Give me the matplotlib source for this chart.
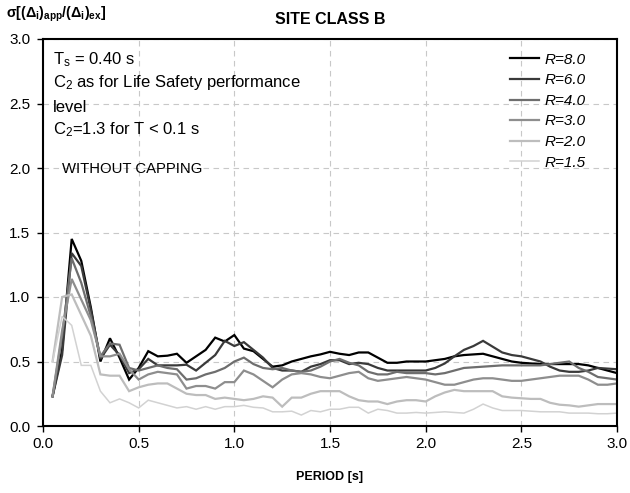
import numpy as np
import matplotlib
matplotlib.use("Agg")
import matplotlib.pyplot as plt

plt.rcParams['font.family'] = ['Liberation Sans', 'DejaVu Sans']
plt.rcParams['mathtext.fontset'] = 'custom'
plt.rcParams['mathtext.rm'] = 'Liberation Sans'
plt.rcParams['mathtext.it'] = 'Liberation Sans:italic'
plt.rcParams['mathtext.bf'] = 'Liberation Sans:bold'

period = [round(0.05 * i, 2) for i in range(1, 61)]

r80 = [0.23, 0.59, 1.45, 1.28, 0.92, 0.50, 0.68, 0.53, 0.36, 0.45,
       0.58, 0.54, 0.545, 0.56, 0.49, 0.54, 0.59, 0.685, 0.655, 0.705,
       0.60, 0.58, 0.52, 0.46, 0.47, 0.50, 0.52, 0.54, 0.555, 0.575,
       0.56, 0.55, 0.57, 0.57, 0.53, 0.49, 0.49, 0.50, 0.50, 0.50,
       0.51, 0.52, 0.54, 0.55, 0.555, 0.56, 0.54, 0.52, 0.50, 0.49,
       0.485, 0.48, 0.48, 0.48, 0.48, 0.48, 0.47, 0.45, 0.43, 0.41]
r60 = [0.23, 0.55, 1.34, 1.24, 0.90, 0.52, 0.63, 0.55, 0.41, 0.44,
       0.52, 0.47, 0.47, 0.47, 0.475, 0.43, 0.49, 0.55, 0.66, 0.62,
       0.65, 0.59, 0.53, 0.45, 0.43, 0.43, 0.42, 0.46, 0.48, 0.51,
       0.51, 0.48, 0.49, 0.48, 0.45, 0.43, 0.43, 0.43, 0.43, 0.43,
       0.45, 0.485, 0.54, 0.59, 0.62, 0.66, 0.615, 0.57, 0.55, 0.54,
       0.52, 0.50, 0.46, 0.43, 0.42, 0.42, 0.43, 0.45, 0.445, 0.44]
r40 = [0.23, 0.70, 1.30, 1.11, 0.85, 0.54, 0.64, 0.63, 0.45, 0.43,
       0.45, 0.47, 0.45, 0.44, 0.36, 0.37, 0.40, 0.42, 0.45, 0.50,
       0.53, 0.48, 0.45, 0.44, 0.45, 0.43, 0.42, 0.43, 0.46, 0.50,
       0.52, 0.49, 0.47, 0.42, 0.40, 0.40, 0.42, 0.41, 0.41, 0.41,
       0.40, 0.41, 0.43, 0.45, 0.455, 0.46, 0.465, 0.47, 0.47, 0.47,
       0.47, 0.47, 0.48, 0.49, 0.50, 0.45, 0.42, 0.38, 0.37, 0.36]
r30 = [0.23, 0.74, 1.14, 0.98, 0.82, 0.54, 0.54, 0.56, 0.44, 0.36,
       0.40, 0.42, 0.41, 0.40, 0.29, 0.31, 0.31, 0.29, 0.34, 0.34,
       0.43, 0.40, 0.35, 0.30, 0.36, 0.40, 0.41, 0.40, 0.38, 0.37,
       0.39, 0.41, 0.42, 0.37, 0.35, 0.36, 0.37, 0.38, 0.37, 0.36,
       0.34, 0.32, 0.32, 0.34, 0.36, 0.37, 0.37, 0.36, 0.35, 0.35,
       0.36, 0.37, 0.38, 0.39, 0.39, 0.39, 0.36, 0.32, 0.32, 0.33]
r20 = [0.50, 1.00, 1.02, 0.86, 0.70, 0.40, 0.39, 0.39, 0.27, 0.30,
       0.32, 0.33, 0.33, 0.29, 0.25, 0.24, 0.24, 0.21, 0.22, 0.21,
       0.20, 0.21, 0.23, 0.22, 0.15, 0.22, 0.22, 0.25, 0.27, 0.27,
       0.27, 0.23, 0.20, 0.19, 0.19, 0.17, 0.19, 0.20, 0.20, 0.19,
       0.23, 0.26, 0.28, 0.27, 0.27, 0.27, 0.27, 0.23, 0.22, 0.215,
       0.21, 0.21, 0.18, 0.165, 0.16, 0.15, 0.16, 0.17, 0.17, 0.17]
r15 = [0.50, 0.85, 0.78, 0.47, 0.47, 0.27, 0.18, 0.21, 0.18, 0.14,
       0.20, 0.18, 0.16, 0.14, 0.15, 0.13, 0.15, 0.13, 0.15, 0.15,
       0.16, 0.145, 0.14, 0.11, 0.11, 0.115, 0.085, 0.12, 0.11, 0.13,
       0.13, 0.145, 0.145, 0.10, 0.13, 0.12, 0.10, 0.10, 0.105, 0.10,
       0.105, 0.11, 0.105, 0.10, 0.13, 0.17, 0.14, 0.12, 0.12, 0.12,
       0.115, 0.11, 0.11, 0.11, 0.10, 0.10, 0.10, 0.095, 0.095, 0.10]

labels = ["R=8.0", "R=6.0", "R=4.0", "R=3.0", "R=2.0", "R=1.5"]
series = [r80, r60, r40, r30, r20, r15]
colors = ["#000000", "#3a3a3a", "#6e6e6e", "#8e8e8e", "#bdbdbd", "#d2d2d2"]
widths = [1.6, 1.6, 1.6, 1.6, 1.6, 1.1]

fig = plt.figure(figsize=(6.3, 4.93), dpi=100)
ax = fig.add_axes([43/630, 1-426/493, (617-43)/630, (426-39)/493])

for y, lab, c, w in zip(series, labels, colors, widths):
    ax.plot(period, y, color=c, lw=w, label=lab, solid_joinstyle='miter')

ax.set_xlim(0, 3.0)
ax.set_ylim(0, 3.0)
ax.set_xticks(np.arange(0, 3.01, 0.5))
ax.set_yticks(np.arange(0, 3.01, 0.5))
ax.xaxis.set_major_formatter(matplotlib.ticker.FormatStrFormatter('%.1f'))
ax.yaxis.set_major_formatter(matplotlib.ticker.FormatStrFormatter('%.1f'))
ax.tick_params(direction='out', length=4, width=1, labelsize=11, colors='black')
ax.tick_params(axis='y', pad=5)
ax.tick_params(axis='x', pad=4)
ax.grid(True, color='#c8c8c8', linestyle=(0, (5, 4)), lw=0.8)
for s in ax.spines.values():
    s.set_linewidth(1.5)
    s.set_color('black')

fs = 12
ax.text(0.052, 2.806, r"T$_\mathrm{s}$ = 0.40 s", fontsize=fs, va='baseline')
ax.text(0.052, 2.628, r"C$_\mathrm{2}$ as for Life Safety performance", fontsize=fs, va='baseline')
ax.text(0.052, 2.434, "level", fontsize=fs, va='baseline')
ax.text(0.052, 2.264, r"C$_\mathrm{2}$=1.3 for T < 0.1 s", fontsize=fs, va='baseline')
ax.text(0.10, 1.965, "WITHOUT CAPPING", fontsize=10.7, va='baseline')

leg = ax.legend(loc='upper right', frameon=False, fontsize=11,
                handlelength=1.9, labelspacing=0.43, handletextpad=0.33,
                borderaxespad=0.5, bbox_to_anchor=(0.969, 1.0))
for t in leg.get_texts():
    t.set_fontstyle('italic')

fig.text(330/630, 1-20/493, "SITE CLASS B", ha='center', va='center',
         fontsize=11.5, fontweight='bold')
fig.text(6/630, 1-14/493,
         r"$\mathbf{\sigma[(\Delta_{i})_{app}/(\Delta_{i})_{ex}]}$",
         ha='left', va='center', fontsize=10.3)
fig.text(330/630, 1-477/493, "PERIOD [s]", ha='center', va='center',
         fontsize=9, fontweight='bold')

fig.savefig("out.png", dpi=100)
